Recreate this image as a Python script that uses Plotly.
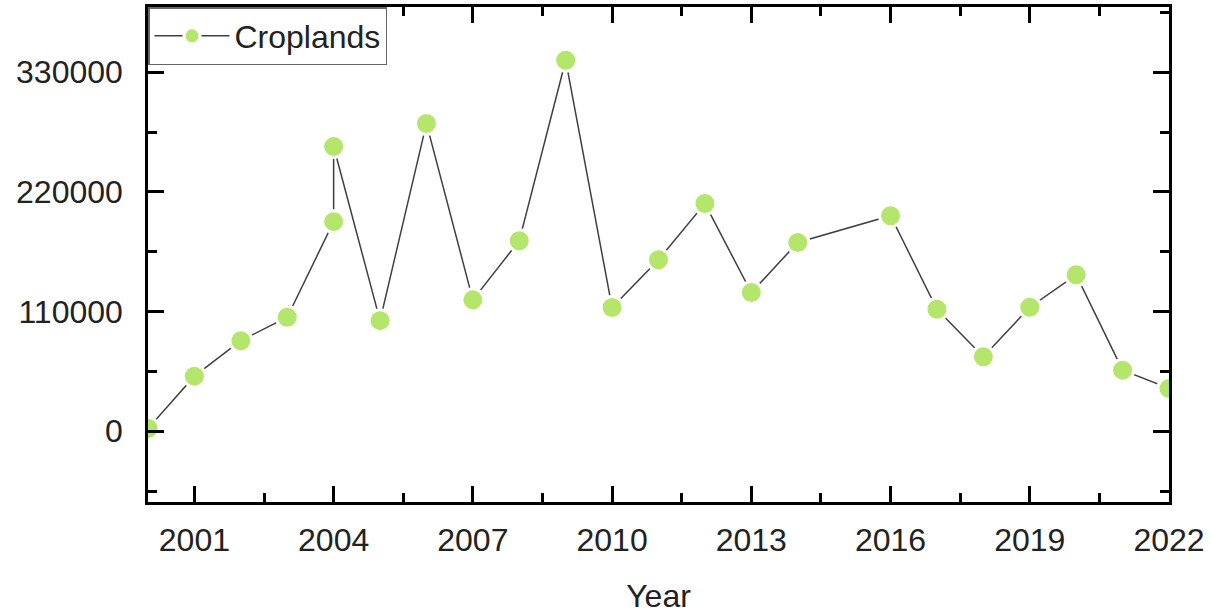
import plotly.graph_objects as go

years = [2000, 2001, 2002, 2003, 2004, 2004, 2005, 2006, 2007, 2008, 2009, 2010,
         2011, 2012, 2013, 2014, 2016, 2017, 2018, 2019, 2020, 2021, 2022]
croplands = [2500, 50700, 83300, 104800, 192700, 261800, 101700, 283000, 120800,
             175200, 341100, 113700, 157700, 209300, 127500, 173600, 198200,
             112200, 68500, 114000, 143800, 56200, 39400]

x_ticks = [2001, 2004, 2007, 2010, 2013, 2016, 2019, 2022]
y_ticks = [0, 110000, 220000, 330000]

FONT = "Liberation Sans, Arial, sans-serif"
FSIZE = 32

fig = go.Figure()
fig.add_trace(go.Scatter(
    x=years, y=croplands, mode="lines+markers", name="Croplands",
    line=dict(color="#404040", width=1.5),
    marker=dict(size=22, color="#B3E66A", line=dict(color="white", width=3)),
    cliponaxis=True,
))

axis_common = dict(
    showline=True, linecolor="black", linewidth=2.5, mirror="ticks",
    ticks="inside", tickwidth=2.5, tickcolor="black", ticklen=16,
    showgrid=False, zeroline=False, automargin=False,
    tickfont=dict(family=FONT, size=FSIZE, color="#222"),
)

fig.update_xaxes(
    range=[2000, 2022], tickmode="array", tickvals=x_ticks,
    ticktext=[str(v) for v in x_ticks], ticklabelstandoff=8,
    minor=dict(tickmode="linear", tick0=2001, dtick=1.5, ticks="inside",
               ticklen=9, tickwidth=2.5, tickcolor="black"),
    title=dict(text="Year", font=dict(family=FONT, size=FSIZE, color="#222"), standoff=28),
    **axis_common,
)
fig.update_yaxes(
    range=[-65000, 390000], tickmode="array", tickvals=y_ticks,
    ticktext=[str(v) for v in y_ticks], ticklabelstandoff=16,
    minor=dict(tickmode="linear", tick0=0, dtick=55000, ticks="inside",
               ticklen=9, tickwidth=2.5, tickcolor="black"),
    **axis_common,
)

fig.update_layout(
    width=1211, height=614,
    margin=dict(l=148, r=42, t=7, b=112),
    paper_bgcolor="white", plot_bgcolor="white",
    showlegend=True,
    legend=dict(x=0, y=1, xanchor="left", yanchor="top",
                bgcolor="white", bordercolor="#666", borderwidth=1.5,
                font=dict(family=FONT, size=FSIZE, color="#222"),
                itemwidth=75, tracegroupgap=0),
)

fig.write_html("out.html", config={"displayModeBar": False},
               post_script="document.body.style.margin='0';")
